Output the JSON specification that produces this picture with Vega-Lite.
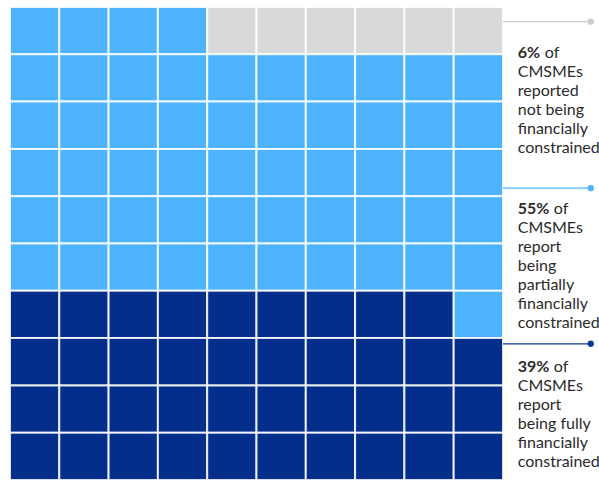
{
  "$schema": "https://vega.github.io/schema/vega-lite/v6.json",
  "width": 493,
  "height": 473,
  "autosize": {"type": "none"},
  "padding": {"left": 10, "top": 7, "right": 96, "bottom": 0},
  "background": "white",
  "config": {"view": {"stroke": null}, "font": "Lato"},
  "datasets": {
    "cells": [
      {"r":0,"c":0,"s":"partial"},{"r":0,"c":1,"s":"partial"},{"r":0,"c":2,"s":"partial"},{"r":0,"c":3,"s":"partial"},{"r":0,"c":4,"s":"none"},{"r":0,"c":5,"s":"none"},{"r":0,"c":6,"s":"none"},{"r":0,"c":7,"s":"none"},{"r":0,"c":8,"s":"none"},{"r":0,"c":9,"s":"none"},
      {"r":1,"c":0,"s":"partial"},{"r":1,"c":1,"s":"partial"},{"r":1,"c":2,"s":"partial"},{"r":1,"c":3,"s":"partial"},{"r":1,"c":4,"s":"partial"},{"r":1,"c":5,"s":"partial"},{"r":1,"c":6,"s":"partial"},{"r":1,"c":7,"s":"partial"},{"r":1,"c":8,"s":"partial"},{"r":1,"c":9,"s":"partial"},
      {"r":2,"c":0,"s":"partial"},{"r":2,"c":1,"s":"partial"},{"r":2,"c":2,"s":"partial"},{"r":2,"c":3,"s":"partial"},{"r":2,"c":4,"s":"partial"},{"r":2,"c":5,"s":"partial"},{"r":2,"c":6,"s":"partial"},{"r":2,"c":7,"s":"partial"},{"r":2,"c":8,"s":"partial"},{"r":2,"c":9,"s":"partial"},
      {"r":3,"c":0,"s":"partial"},{"r":3,"c":1,"s":"partial"},{"r":3,"c":2,"s":"partial"},{"r":3,"c":3,"s":"partial"},{"r":3,"c":4,"s":"partial"},{"r":3,"c":5,"s":"partial"},{"r":3,"c":6,"s":"partial"},{"r":3,"c":7,"s":"partial"},{"r":3,"c":8,"s":"partial"},{"r":3,"c":9,"s":"partial"},
      {"r":4,"c":0,"s":"partial"},{"r":4,"c":1,"s":"partial"},{"r":4,"c":2,"s":"partial"},{"r":4,"c":3,"s":"partial"},{"r":4,"c":4,"s":"partial"},{"r":4,"c":5,"s":"partial"},{"r":4,"c":6,"s":"partial"},{"r":4,"c":7,"s":"partial"},{"r":4,"c":8,"s":"partial"},{"r":4,"c":9,"s":"partial"},
      {"r":5,"c":0,"s":"partial"},{"r":5,"c":1,"s":"partial"},{"r":5,"c":2,"s":"partial"},{"r":5,"c":3,"s":"partial"},{"r":5,"c":4,"s":"partial"},{"r":5,"c":5,"s":"partial"},{"r":5,"c":6,"s":"partial"},{"r":5,"c":7,"s":"partial"},{"r":5,"c":8,"s":"partial"},{"r":5,"c":9,"s":"partial"},
      {"r":6,"c":0,"s":"full"},{"r":6,"c":1,"s":"full"},{"r":6,"c":2,"s":"full"},{"r":6,"c":3,"s":"full"},{"r":6,"c":4,"s":"full"},{"r":6,"c":5,"s":"full"},{"r":6,"c":6,"s":"full"},{"r":6,"c":7,"s":"full"},{"r":6,"c":8,"s":"full"},{"r":6,"c":9,"s":"partial"},
      {"r":7,"c":0,"s":"full"},{"r":7,"c":1,"s":"full"},{"r":7,"c":2,"s":"full"},{"r":7,"c":3,"s":"full"},{"r":7,"c":4,"s":"full"},{"r":7,"c":5,"s":"full"},{"r":7,"c":6,"s":"full"},{"r":7,"c":7,"s":"full"},{"r":7,"c":8,"s":"full"},{"r":7,"c":9,"s":"full"},
      {"r":8,"c":0,"s":"full"},{"r":8,"c":1,"s":"full"},{"r":8,"c":2,"s":"full"},{"r":8,"c":3,"s":"full"},{"r":8,"c":4,"s":"full"},{"r":8,"c":5,"s":"full"},{"r":8,"c":6,"s":"full"},{"r":8,"c":7,"s":"full"},{"r":8,"c":8,"s":"full"},{"r":8,"c":9,"s":"full"},
      {"r":9,"c":0,"s":"full"},{"r":9,"c":1,"s":"full"},{"r":9,"c":2,"s":"full"},{"r":9,"c":3,"s":"full"},{"r":9,"c":4,"s":"full"},{"r":9,"c":5,"s":"full"},{"r":9,"c":6,"s":"full"},{"r":9,"c":7,"s":"full"},{"r":9,"c":8,"s":"full"},{"r":9,"c":9,"s":"full"}
    ],
    "notes": [
      {"s": "none", "share": 0.06, "body": ["CMSMEs", "reported", "not being", "financially", "constrained"]},
      {"s": "partial", "share": 0.55, "body": ["CMSMEs", "report", "being", "partially", "financially", "constrained"]},
      {"s": "full", "share": 0.39, "body": ["CMSMEs", "report", "being fully", "financially", "constrained"]}
    ]
  },
  "layer": [
    {
      "data": {"name": "cells"},
      "mark": {"type": "rect", "stroke": "white", "strokeWidth": 2, "strokeOpacity": 0.85},
      "encoding": {
        "x": {"field": "c", "type": "ordinal", "axis": null, "scale": {"paddingInner": 0, "paddingOuter": 0}},
        "y": {"field": "r", "type": "ordinal", "axis": null, "scale": {"paddingInner": 0, "paddingOuter": 0}},
        "color": {
          "field": "s", "type": "nominal", "legend": null,
          "scale": {"domain": ["none", "partial", "full"], "range": ["#D9D9D9", "#4DB3FD", "#032E8C"]}
        }
      }
    },
    {
      "data": {"name": "notes"},
      "layer": [
        {
          "transform": [{"filter": "datum.s === 'none'"}],
          "encoding": {
            "y": {"datum": 0.31, "type": "quantitative", "axis": null, "scale": {"domain": [0, 10], "reverse": true, "nice": false, "zero": false}}
          },
          "layer": [
            {"mark": {"type": "rule", "color": "#CCCCCC", "strokeWidth": 1.3},
             "encoding": {"x": {"datum": 10, "type": "quantitative", "axis": null, "scale": {"domain": [0, 10], "nice": false}}, "x2": {"datum": 11.78}}},
            {"mark": {"type": "circle", "color": "#CCCCCC", "opacity": 1, "size": 40},
             "encoding": {"x": {"datum": 11.78, "type": "quantitative"}}},
            {"mark": {"type": "text", "font": "Lato", "fontSize": 16, "fontWeight": "bold", "color": "#2B2B2B", "align": "left", "baseline": "alphabetic", "dy": 36},
             "encoding": {"x": {"datum": 10.3, "type": "quantitative"}, "text": {"field": "share", "type": "quantitative", "format": ".0%"}}},
            {"mark": {"type": "text", "font": "Lato", "fontSize": 16, "color": "#2B2B2B", "align": "left", "baseline": "alphabetic", "dy": 36, "dx": 27, "text": "of"},
             "encoding": {"x": {"datum": 10.3, "type": "quantitative"}}},
            {"mark": {"type": "text", "font": "Lato", "fontSize": 16, "color": "#2B2B2B", "align": "left", "baseline": "alphabetic", "dy": 55, "lineHeight": 19},
             "encoding": {"x": {"datum": 10.3, "type": "quantitative"}, "text": {"field": "body"}}}
          ]
        },
        {
          "transform": [{"filter": "datum.s === 'partial'"}],
          "encoding": {
            "y": {"datum": 3.83, "type": "quantitative"}
          },
          "layer": [
            {"mark": {"type": "rule", "color": "#4DB3FD", "strokeWidth": 1.3},
             "encoding": {"x": {"datum": 10, "type": "quantitative"}, "x2": {"datum": 11.78}}},
            {"mark": {"type": "circle", "color": "#4DB3FD", "opacity": 1, "size": 40},
             "encoding": {"x": {"datum": 11.78, "type": "quantitative"}}},
            {"mark": {"type": "text", "font": "Lato", "fontSize": 16, "fontWeight": "bold", "color": "#2B2B2B", "align": "left", "baseline": "alphabetic", "dy": 26},
             "encoding": {"x": {"datum": 10.3, "type": "quantitative"}, "text": {"field": "share", "type": "quantitative", "format": ".0%"}}},
            {"mark": {"type": "text", "font": "Lato", "fontSize": 16, "color": "#2B2B2B", "align": "left", "baseline": "alphabetic", "dy": 26, "dx": 36, "text": "of"},
             "encoding": {"x": {"datum": 10.3, "type": "quantitative"}}},
            {"mark": {"type": "text", "font": "Lato", "fontSize": 16, "color": "#2B2B2B", "align": "left", "baseline": "alphabetic", "dy": 45, "lineHeight": 19},
             "encoding": {"x": {"datum": 10.3, "type": "quantitative"}, "text": {"field": "body"}}}
          ]
        },
        {
          "transform": [{"filter": "datum.s === 'full'"}],
          "encoding": {
            "y": {"datum": 7.12, "type": "quantitative"}
          },
          "layer": [
            {"mark": {"type": "rule", "color": "#0B3A96", "strokeWidth": 1.3},
             "encoding": {"x": {"datum": 10, "type": "quantitative"}, "x2": {"datum": 11.78}}},
            {"mark": {"type": "circle", "color": "#0B3A96", "opacity": 1, "size": 40},
             "encoding": {"x": {"datum": 11.78, "type": "quantitative"}}},
            {"mark": {"type": "text", "font": "Lato", "fontSize": 16, "fontWeight": "bold", "color": "#2B2B2B", "align": "left", "baseline": "alphabetic", "dy": 28},
             "encoding": {"x": {"datum": 10.3, "type": "quantitative"}, "text": {"field": "share", "type": "quantitative", "format": ".0%"}}},
            {"mark": {"type": "text", "font": "Lato", "fontSize": 16, "color": "#2B2B2B", "align": "left", "baseline": "alphabetic", "dy": 28, "dx": 36, "text": "of"},
             "encoding": {"x": {"datum": 10.3, "type": "quantitative"}}},
            {"mark": {"type": "text", "font": "Lato", "fontSize": 16, "color": "#2B2B2B", "align": "left", "baseline": "alphabetic", "dy": 47, "lineHeight": 19},
             "encoding": {"x": {"datum": 10.3, "type": "quantitative"}, "text": {"field": "body"}}}
          ]
        }
      ]
    }
  ],
  "resolve": {"scale": {"x": "independent", "y": "independent", "color": "independent"}}
}
